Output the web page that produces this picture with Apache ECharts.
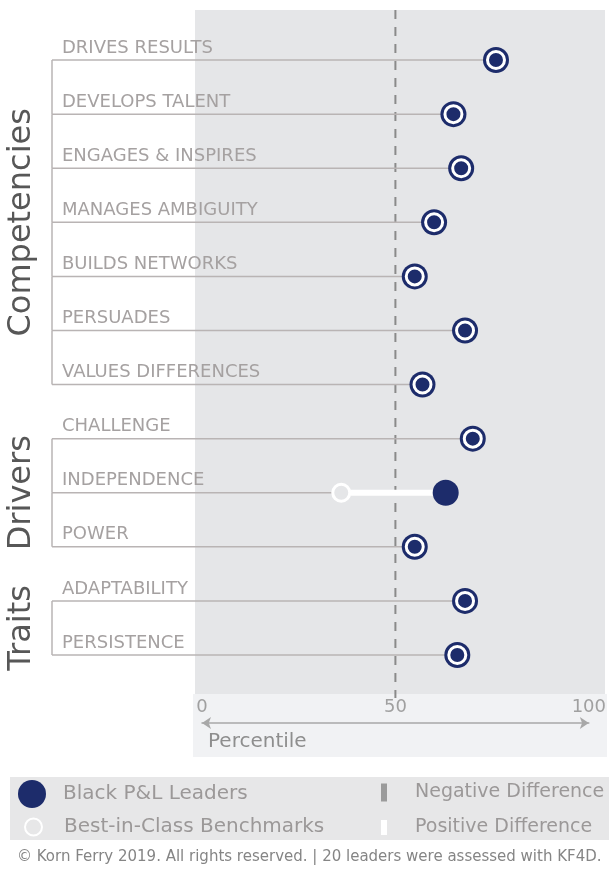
<!DOCTYPE html>
<html>
<head>
<meta charset="utf-8">
<title>Black P&amp;L Leaders</title>
<script src="https://cdn.jsdelivr.net/npm/echarts@6/dist/echarts.min.js"></script>
<style>
  html, body { margin: 0; padding: 0; background: #fff; }
  #chart { width: 609px; height: 872px; }
</style>
</head>
<body>
<div id="chart"></div>
<script>
// 数据
const categories = [
  'DRIVES RESULTS', 'DEVELOPS TALENT', 'ENGAGES & INSPIRES', 'MANAGES AMBIGUITY',
  'BUILDS NETWORKS', 'PERSUADES', 'VALUES DIFFERENCES',
  'CHALLENGE', 'INDEPENDENCE', 'POWER',
  'ADAPTABILITY', 'PERSISTENCE'
]
const groups = [
  'Competencies', 'Competencies', 'Competencies', 'Competencies',
  'Competencies', 'Competencies', 'Competencies',
  'Drivers', 'Drivers', 'Drivers',
  'Traits', 'Traits'
]
const leaders = [76, 65, 67, 60, 55, 68, 57, 70, 63, 55, 68, 66]
const benchmarks = [76, 65, 67, 60, 55, 68, 57, 70, 36, 55, 68, 66]
const xTicks = [0, 50, 100]
const referenceValue = 50

const FONT = "'DejaVu Sans', sans-serif"
const NAVY = '#1d2c6b'
const LINE_GRAY = '#b9b4b4'

const chart = echarts.init(document.getElementById('chart'))

// 行的基线、分组括号、分组标题、50 参考线
const rowsData = categories.map((c, i) => [leaders[i], benchmarks[i], i])
function renderRow (params, api) {
  const i = api.value(2)
  const lead = api.value(0)
  const bench = api.value(1)
  const p0 = api.coord([xTicks[0], i])
  const y = p0[1]
  const xLeft = p0[0] - 150
  const xEnd = api.coord([Math.min(lead, bench), i])[0] - 9
  const lineStyle = { stroke: LINE_GRAY, lineWidth: 1.5 }
  const children = [
    { type: 'line', shape: { x1: xLeft, y1: y, x2: xEnd, y2: y }, style: lineStyle }
  ]
  if (i + 1 < categories.length && groups[i + 1] === groups[i]) {
    const yNext = api.coord([0, i + 1])[1]
    children.push({ type: 'line', shape: { x1: xLeft, y1: y, x2: xLeft, y2: yNext }, style: lineStyle })
  }
  if (i === 0 || groups[i - 1] !== groups[i]) {
    let last = i
    while (last + 1 < categories.length && groups[last + 1] === groups[i]) last++
    const yMid = (y + api.coord([0, last])[1]) / 2
    children.push({
      type: 'text',
      x: 22,
      y: yMid,
      rotation: Math.PI / 2,
      style: {
        text: groups[i],
        align: 'center',
        verticalAlign: 'middle',
        fontSize: 32,
        fontFamily: FONT,
        fill: '#575757'
      }
    })
  }
  if (i === 0) {
    const xRef = api.coord([referenceValue, 0])[0]
    children.push({
      type: 'line',
      shape: { x1: xRef, y1: 10, x2: xRef, y2: 698 },
      style: { stroke: '#8a8a8a', lineWidth: 2, lineDash: [9, 8] }
    })
  }
  return { type: 'group', children }
}

// 差值线段
function renderDiff (color, offsetStart) {
  return function (params, api) {
    const i = api.value(2)
    const a = api.coord([api.value(0), i])
    const b = api.coord([api.value(1), i])
    return {
      type: 'line',
      shape: { x1: a[0] + offsetStart, y1: a[1], x2: b[0], y2: b[1] },
      style: { stroke: color, lineWidth: 6 }
    }
  }
}
const positiveData = []
const negativeData = []
leaders.forEach((v, i) => {
  if (v > benchmarks[i]) positiveData.push([benchmarks[i], v, i])
  if (v < benchmarks[i]) negativeData.push([v, benchmarks[i], i])
})

const legendText = (pad, size) => ({
  fontSize: size,
  fontFamily: FONT,
  color: '#9b9898',
  padding: [0, 0, 0, pad]
})

const option = {
  animation: false,
  title: {
    text: '\u00a9 Korn Ferry 2019. All rights reserved. | 20 leaders were assessed with KF4D.',
    left: 17,
    top: 850,
    padding: 0,
    textStyle: { fontSize: 15, fontWeight: 'normal', fontFamily: FONT, color: '#858585' }
  },
  graphic: [
    { type: 'rect', z: -10, shape: { x: 195, y: 10, width: 410, height: 684 }, style: { fill: '#e5e6e8' } },
    { type: 'rect', z: -10, shape: { x: 193, y: 694, width: 414, height: 63 }, style: { fill: '#f1f2f4' } },
    { type: 'rect', z: -10, shape: { x: 10, y: 777, width: 599, height: 63 }, style: { fill: '#e7e7e8' } }
  ],
  legend: [
    {
      data: ['Black P&L Leaders'], left: 18, top: 780, padding: 0,
      itemWidth: 28, itemHeight: 28, selectedMode: false, textStyle: legendText(12, 20)
    },
    {
      data: ['Best-in-Class Benchmarks'], left: 24, top: 817, padding: 0,
      itemWidth: 17, itemHeight: 17, selectedMode: false, textStyle: legendText(17, 20)
    },
    {
      data: [{ name: 'Negative Difference', icon: 'rect' }], left: 381, top: 783, padding: 0,
      itemWidth: 6, itemHeight: 18, selectedMode: false, textStyle: legendText(23, 19)
    },
    {
      data: [{ name: 'Positive Difference', icon: 'rect' }], left: 381, top: 818, padding: 0,
      itemWidth: 6, itemHeight: 15, selectedMode: false, textStyle: legendText(23, 19)
    }
  ],
  grid: { left: 202, right: 17, top: 33, bottom: 190 },
  xAxis: {
    type: 'value',
    min: xTicks[0],
    max: xTicks[xTicks.length - 1],
    interval: 50,
    offset: 41,
    splitLine: { show: false },
    axisTick: { show: false },
    axisLine: {
      show: true,
      symbol: ['arrow', 'arrow'],
      symbolSize: [9, 9],
      lineStyle: { color: '#a8a8a8', width: 1.5 }
    },
    axisLabel: {
      inside: true,
      margin: 7,
      fontSize: 18,
      fontFamily: FONT,
      color: '#a0a0a0'
    },
    name: 'Percentile',
    nameLocation: 'start',
    nameGap: -6,
    nameTextStyle: {
      align: 'left',
      verticalAlign: 'top',
      padding: [9, 0, 0, 0],
      fontSize: 20,
      fontFamily: FONT,
      color: '#8e8e8e'
    }
  },
  yAxis: {
    type: 'category',
    data: categories,
    inverse: true,
    axisLine: { show: false },
    axisTick: { show: false },
    splitLine: { show: false },
    axisLabel: {
      margin: 140,
      align: 'left',
      verticalAlign: 'bottom',
      padding: [0, 0, 3, 0],
      fontSize: 18,
      fontFamily: FONT,
      color: '#a5a1a1'
    }
  },
  series: [
    {
      name: 'rows',
      type: 'custom',
      silent: true,
      z: 1,
      encode: { x: [0, 1], y: 2 },
      data: rowsData,
      renderItem: renderRow
    },
    {
      name: 'Negative Difference',
      type: 'custom',
      silent: true,
      z: 2,
      itemStyle: { color: '#9b9b9b' },
      encode: { x: [0, 1], y: 2 },
      data: negativeData,
      renderItem: renderDiff('#9b9b9b', 0)
    },
    {
      name: 'Positive Difference',
      type: 'custom',
      silent: true,
      z: 2,
      itemStyle: { color: '#ffffff' },
      encode: { x: [0, 1], y: 2 },
      data: positiveData,
      renderItem: renderDiff('#ffffff', 9)
    },
    {
      name: 'Black P&L Leaders',
      type: 'scatter',
      z: 5,
      symbolSize: 26,
      itemStyle: { color: NAVY, opacity: 1 },
      data: leaders.map((v, i) => [v, i])
    },
    {
      name: 'Best-in-Class Benchmarks',
      type: 'scatter',
      z: 6,
      symbolSize: 17,
      itemStyle: { color: 'rgba(0,0,0,0)', borderColor: '#ffffff', borderWidth: 3, opacity: 1 },
      data: benchmarks.map((v, i) => [v, i])
    }
  ]
}

chart.setOption(option)
</script>
</body>
</html>
